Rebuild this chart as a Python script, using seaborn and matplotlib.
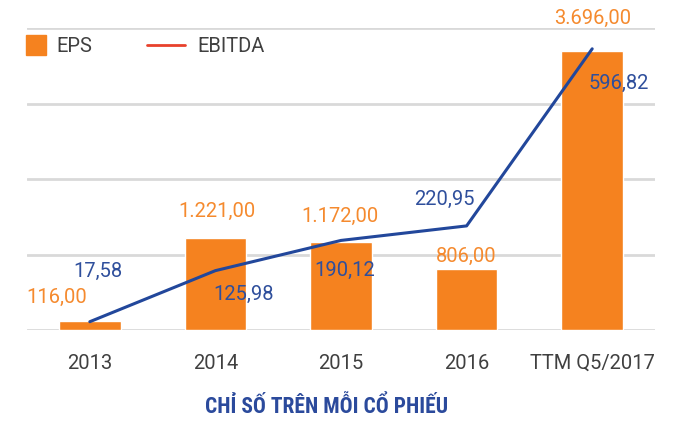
import matplotlib
matplotlib.use("Agg")
import matplotlib.pyplot as plt
import numpy as np
import seaborn as sns
from matplotlib import font_manager
from matplotlib.lines import Line2D

# data
categories = ["2013", "2014", "2015", "2016", "TTM Q5/2017"]
eps = [116.00, 1221.00, 1172.00, 806.00, 3696.00]
ebitda = [17.58, 125.98, 190.12, 220.95, 596.82]
eps_labels = ["116,00", "1.221,00", "1.172,00", "806,00", "3.696,00"]
ebitda_labels = ["17,58", "125,98", "190,12", "220,95", "596,82"]
title = "CHỈ SỐ TRÊN MỖI CỔ PHIẾU"

# label offsets in pixels (dx, dy), tuned by eye
eps_offsets = [(-33, 24), (2, 26), (-1, 25), (0, 13), (0, 33)]
ebitda_offsets = [(8, 50), (28, -24), (4, -30), (-22, 26), (27, -35)]

orange = "#F5821F"
orange_txt = "#F58A2E"
blue = "#22479B"
blue_txt = "#2F4F9C"
red = "#E8412C"
grid_c = "#D9D9D9"

sns.set_theme(style="white")
plt.rcParams["font.family"] = ["Roboto", "DejaVu Sans"]

# look for a narrow face for the title, fall back to Roboto
names = {f.name for f in font_manager.fontManager.ttflist}
narrow = None
for cand in ["Roboto Condensed", "Liberation Sans Narrow", "DejaVu Sans Condensed",
             "Open Sans Condensed", "Noto Sans Condensed"]:
    if cand in names:
        narrow = cand
        break
title_size = 15.5
if narrow is None:
    narrow = "Roboto"
    title_size = 14

fig = plt.figure(figsize=(6.94, 4.22), dpi=100)
ax = fig.add_axes([27 / 694, 92 / 422, 628 / 694, 302 / 422])

x = np.arange(len(categories))
sns.barplot(x=x, y=eps, color=orange, width=0.49, saturation=1, ax=ax,
            native_scale=True)
ax.set_xlim(-0.5, len(categories) - 0.5)
ax.set_ylim(0, 4000)
ax.set_yticks([0, 1000, 2000, 3000, 4000])
ax.set_yticklabels([])
ax.yaxis.grid(True, color=grid_c, lw=2)
ax.set_axisbelow(True)
ax.set_xticks(x)
ax.set_xticklabels(categories, fontsize=14.5, color="#404040")
ax.tick_params(axis="x", length=0, pad=17)
ax.tick_params(axis="y", length=0)
for s in ax.spines.values():
    s.set_visible(False)
ax.set_ylabel("")

ax2 = ax.twinx()
sns.lineplot(x=x, y=ebitda, color=blue, lw=2.2, ax=ax2)
ax2.set_ylim(0, 641)
ax2.set_yticks([])
ax2.grid(False)
for s in ax2.spines.values():
    s.set_visible(False)

for xi, v, lab, off in zip(x, eps, eps_labels, eps_offsets):
    ax2.annotate(lab, xy=(xi, v / 4000 * 641), xytext=off, textcoords="offset pixels",
                 ha="center", va="center", fontsize=14.5, color=orange_txt)
for xi, v, lab, off in zip(x, ebitda, ebitda_labels, ebitda_offsets):
    ax2.annotate(lab, xy=(xi, v), xytext=off, textcoords="offset pixels",
                 ha="center", va="center", fontsize=14.5, color=blue_txt)

# two separate legends so the square and the line get their own handle sizes
leg_kw = dict(loc="upper left", frameon=False, fontsize=14.5, labelcolor="#404040",
              borderaxespad=0.0, borderpad=0.3)
eps_handle = Line2D([], [], ls="none", marker="s", ms=14.4, color=orange, label="EPS")
leg1 = ax2.legend(handles=[eps_handle], bbox_to_anchor=(-0.012, 0.99),
                  handlelength=1.0, handletextpad=0.55, **leg_kw)
ax2.add_artist(leg1)
line_handle = Line2D([], [], color=red, lw=2, label="EBITDA")
ax2.legend(handles=[line_handle], bbox_to_anchor=(0.182, 0.99),
           handlelength=1.85, handletextpad=0.65, **leg_kw)

fig.text(0.47, 0.035, title, ha="center", va="center", fontsize=title_size,
         fontweight="bold", color="#2B4A9C", family=[narrow, "DejaVu Sans"])

fig.savefig("out.png", dpi=100)
